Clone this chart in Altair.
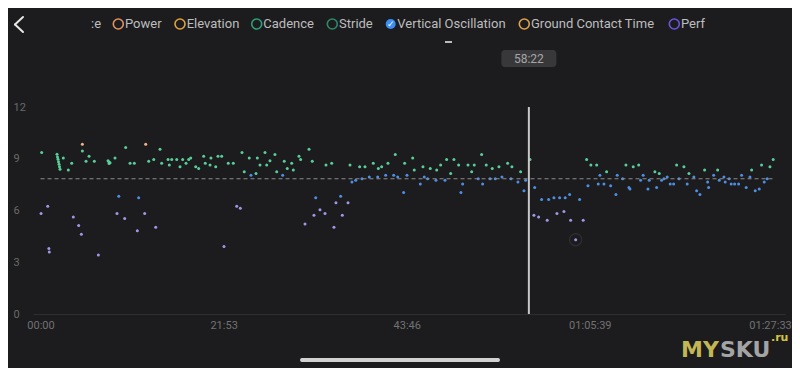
import altair as alt
import pandas as pd

BG = "#1c1c1e"
FONT = "Roboto"

# ---- data (time in minutes, vertical oscillation in cm) ----
t_first = [0.14, 1.97, 2.03, 2.09, 2.15, 2.21, 2.27, 2.33, 2.72, 3.32, 3.73, 5.00, 5.00, 5.44, 5.80, 6.43,
           8.07, 8.19, 8.31, 8.19, 8.90, 10.18, 10.70, 11.21, 12.57, 12.93, 13.53, 14.28, 14.48, 15.24, 15.39,
           15.68, 16.28, 16.67, 16.99, 17.39, 17.71, 17.95, 18.55, 18.90, 19.50, 19.69, 20.26, 20.37, 20.94,
           21.21, 21.65, 22.44, 23.04, 24.08, 24.35, 24.95, 25.15, 25.75, 25.91, 26.23, 26.83, 27.03, 27.42,
           0.06, 0.86, 1.00, 1.05, 3.92, 4.56, 4.88, 6.91, 9.14, 9.35, 10.06, 11.57, 11.73, 12.45, 13.77,
           21.93, 23.45, 23.88]
v_first = [9.36, 9.26, 9.10, 8.97, 8.82, 8.68, 8.53, 8.39, 9.04, 8.35, 8.74, 9.84, 9.45, 8.85, 9.14, 8.85,
           8.88, 8.81, 8.77, 8.72, 9.04, 9.65, 8.74, 8.74, 9.84, 8.85, 8.95, 9.55, 8.74, 8.95, 8.64,
           8.95, 8.95, 8.54, 8.95, 8.74, 8.95, 9.04, 8.54, 8.44, 9.14, 8.74, 8.64, 9.04, 8.54,
           9.14, 9.14, 8.74, 8.74, 9.36, 8.25, 9.04, 8.04, 8.15, 9.04, 8.64, 9.36, 8.64, 8.88,
           5.82, 6.25, 3.80, 3.59, 5.63, 5.13, 4.62, 3.42, 5.82, 6.83, 5.53, 4.83, 6.74, 5.82, 5.03,
           3.92, 6.25, 6.13]

t_mid = [28.02, 28.23, 28.94, 29.13, 29.49, 30.02, 30.21, 30.89, 31.09, 32.09, 32.48, 34.12, 34.80, 36.99,
         37.22, 37.67, 38.14, 38.42, 38.78, 39.29, 39.77, 40.30, 40.37, 40.77, 41.25, 41.53, 42.21, 42.40,
         42.69, 43.40, 43.52, 43.80, 44.48, 44.67, 45.39, 45.71, 45.86, 46.27, 46.58, 47.26, 47.35, 47.82,
         48.34, 48.54, 49.02, 49.41, 49.97, 50.25, 50.45, 51.09, 51.53, 51.84, 52.32, 52.72, 52.84, 53.27,
         53.72, 53.99, 54.35, 54.79, 55.15, 55.83, 56.22, 56.34, 57.06, 57.38, 57.78, 57.98, 58.50, 59.06,
         58.97, 59.53,
         31.61, 32.89, 32.68, 33.40, 34.00, 35.07, 35.31, 35.87, 36.07, 36.75]
v_mid = [9.24, 8.25, 8.05, 8.85, 8.44, 8.74, 8.35, 9.14, 8.95, 9.55, 8.85, 8.64, 8.74, 8.64,
         7.65, 7.75, 8.54, 7.84, 8.54, 7.94, 8.74, 7.94, 8.44, 8.54, 8.04, 8.74, 8.04, 9.24,
         7.94, 7.05, 8.74, 8.04, 9.04, 8.35, 7.53, 8.54, 7.94, 7.84, 8.44, 7.75, 8.35, 8.64,
         7.75, 8.95, 8.15, 8.95, 8.64, 7.05, 7.53, 8.64, 8.25, 8.64, 7.84, 9.24, 7.53, 8.64,
         7.84, 8.44, 7.84, 8.54, 7.94, 8.74, 7.84, 8.54, 7.65, 8.25, 7.15, 7.75, 8.95, 7.34,
         5.72, 5.63,
         5.22, 6.74, 5.72, 6.04, 5.82, 5.03, 6.45, 6.83, 5.72, 6.45]

t_last = [59.89, 60.56, 60.73, 61.36, 61.72, 62.04, 62.56, 62.71, 63.24, 63.36, 63.96, 64.43, 64.86, 65.27,
          65.43, 65.78, 66.47, 66.66, 66.86, 67.34, 67.66, 68.14, 68.77, 68.93, 69.57, 69.97, 70.33, 70.45,
          70.84, 71.49, 71.72, 72.03, 72.60, 72.75, 73.43, 73.64, 73.95, 74.23, 74.51, 74.90, 75.26, 75.67,
          76.03, 76.30, 76.90, 77.29, 77.50, 78.09, 78.42, 78.81, 79.37, 79.73, 79.85, 80.45, 80.93, 81.12,
          81.68, 81.83, 82.31, 82.55, 82.96, 83.44, 83.79, 84.34, 84.79, 84.99, 85.42, 85.90, 86.18, 86.50,
          86.85, 87.18, 87.57]
v_last = [6.64, 5.43, 6.64, 6.74, 5.82, 6.74, 5.94, 6.74, 6.93, 5.43, 4.31, 6.64, 5.43, 8.95,
          7.44, 8.64, 8.64, 7.53, 8.04, 7.53, 8.25, 7.44, 6.93, 8.04, 7.84, 8.64, 7.34, 7.24,
          8.54, 8.64, 7.75, 8.04, 7.24, 7.75, 8.25, 7.34, 8.15, 7.75, 7.84, 7.94, 7.53, 7.53,
          8.64, 7.84, 8.54, 7.53, 8.15, 7.94, 7.15, 6.93, 8.35, 7.65, 7.34, 8.04, 8.35, 7.75,
          7.94, 7.65, 7.84, 7.53, 7.53, 7.53, 8.04, 7.34, 7.94, 8.35, 7.15, 7.24, 8.64, 7.65,
          7.84, 8.54, 8.95]

x_tick_values = [0, 21.883, 43.767, 65.65, 87.55]
x_tick_labels = ["00:00", "21:53", "43:46", "01:05:39", "01:27:33"]
y_tick_values = [0, 3, 6, 9, 12]
average_value = 7.84
end_minute = 87.55
cursor_minute = 58.367
cursor_label = "58:22"
highlight_t = [63.96]
highlight_v = [4.31]

legend_names = ["Power", "Elevation", "Cadence", "Stride", "Vertical Oscillation", "Ground Contact Time", "Perf"]
legend_colors = ["#e4915c", "#e0a33a", "#2f9f77", "#2c8a66", "#3b8ef3", "#e0a24a", "#6a55de"]

df = pd.DataFrame({"t": t_first + t_mid + t_last, "v": v_first + v_mid + v_last})
one = pd.DataFrame({"a": [0]})

W, H = 752, 207
xscale = alt.Scale(domain=[-0.9, 88.98], nice=False, zero=False)
yscale = alt.Scale(domain=[0, 12], nice=False, zero=False)

mids = [(a + b) / 2 for a, b in zip(x_tick_values[:-1], x_tick_values[1:])]
label_expr = f"'{x_tick_labels[-1]}'"
for m, lab in reversed(list(zip(mids, x_tick_labels[:-1]))):
    label_expr = f"datum.value < {m} ? '{lab}' : ({label_expr})"

points = alt.Chart(df).mark_circle(size=9, opacity=1).encode(
    x=alt.X("t:Q", scale=xscale, axis=alt.Axis(
        values=x_tick_values, labelExpr=label_expr, title=None, grid=False, ticks=False,
        domainColor="#2e2e31", labelColor="#727272", labelFontSize=11, labelFont=FONT,
        labelPadding=5, labelFlush=False,
        labelOffset={"condition": {"test": f"datum.value > {mids[-1]}", "value": -3}, "value": 0})),
    y=alt.Y("v:Q", scale=yscale, axis=alt.Axis(
        values=y_tick_values, title=None, grid=False, ticks=False, tickSize=0, domain=False,
        labelAlign="left", labelPadding=20, labelColor="#6a6a6a", labelFontSize=11, labelFont=FONT)),
    color=alt.Color("v:Q", legend=None, scale=alt.Scale(
        type="threshold", domain=[6.6, 8.1, 9.7],
        range=["#9f98e8", "#4d8fe4", "#58cf9a", "#f1b48a"])),
)

halo = alt.Chart(pd.DataFrame({"t": highlight_t, "v": highlight_v})).mark_point(
    size=150, filled=False, color="#303033", strokeWidth=1.2, opacity=1
).encode(x=alt.X("t:Q", scale=xscale), y=alt.Y("v:Q", scale=yscale))

avg = alt.Chart(pd.DataFrame({"v": [average_value]})).mark_rule(
    color="#8a8a8a", strokeDash=[4, 3], strokeWidth=1
).encode(y=alt.Y("v:Q", scale=yscale), x=alt.datum(0), x2=alt.datum(end_minute))

cursor = alt.Chart(one).mark_rule(color="#c8c8c8", strokeWidth=2).encode(
    x=alt.datum(cursor_minute), y=alt.value(0), y2=alt.value(H))

box_path = ("M-0.88,-0.31 H0.88 A0.12,0.12 0 0 1 1,-0.19 V0.19 A0.12,0.12 0 0 1 0.88,0.31 "
            "H-0.88 A0.12,0.12 0 0 1 -1,0.19 V-0.19 A0.12,0.12 0 0 1 -0.88,-0.31 Z")
box = alt.Chart(one).mark_point(shape=box_path, size=3025, filled=True, color="#38383b", opacity=1).encode(
    x=alt.datum(cursor_minute), y=alt.value(-48.5))
box_text = alt.Chart(one).mark_text(text=cursor_label, color="#a6a6a6", fontSize=12, font=FONT).encode(
    x=alt.datum(cursor_minute), y=alt.value(-48))

layers = [points, halo, avg, cursor, box, box_text]

# top bar: back arrow + series selector
layers.append(alt.Chart(one).mark_rule(color="#e6e6e6", strokeWidth=2, strokeCap="round").encode(
    x=alt.value(-10), y=alt.value(-90), x2=alt.value(-18), y2=alt.value(-82.5)))
layers.append(alt.Chart(one).mark_rule(color="#e6e6e6", strokeWidth=2, strokeCap="round").encode(
    x=alt.value(-18), y=alt.value(-82.5), x2=alt.value(-10), y2=alt.value(-75)))
layers.append(alt.Chart(one).mark_text(text=":e", color="#bdbdbd", fontSize=13, font=FONT, align="left").encode(
    x=alt.value(58), y=alt.value(-83)))

circle_x = [85.3, 147, 223.7, 299.3, 357.7, 491.3, 641.3]
text_x = [92, 153.7, 230.3, 306, 364.3, 498, 648]
for name, col, cx, tx in zip(legend_names, legend_colors, circle_x, text_x):
    filled = name == "Vertical Oscillation"
    layers.append(alt.Chart(one).mark_point(shape="circle", size=100, filled=filled, color=col,
                                            strokeWidth=1.6, opacity=1).encode(
        x=alt.value(cx), y=alt.value(-83)))
    if filled:
        layers.append(alt.Chart(one).mark_text(text="✓", color="#ffffff", fontSize=9, fontWeight="bold",
                                               font="DejaVu Sans").encode(x=alt.value(cx), y=alt.value(-83)))
    layers.append(alt.Chart(one).mark_text(text=name, color="#bdbdbd", fontSize=13, font=FONT,
                                           align="left").encode(x=alt.value(tx), y=alt.value(-83)))

layers.append(alt.Chart(one).mark_rule(color="#f0f0f0", strokeWidth=1.5).encode(
    x=alt.value(412), x2=alt.value(419), y=alt.value(-65)))

# watermark and home indicator
layers.append(alt.Chart(one).mark_text(text="MY", color="#c2b754", fontSize=22, fontWeight="bold",
                                       font="DejaVu Sans", align="left", baseline="alphabetic").encode(
    x=alt.value(648), y=alt.value(250)))
layers.append(alt.Chart(one).mark_text(text="SKU", color="#a4a4a4", fontSize=22, fontWeight="bold",
                                       font="DejaVu Sans", align="left", baseline="alphabetic").encode(
    x=alt.value(687), y=alt.value(250)))
layers.append(alt.Chart(one).mark_text(text=".ru", color="#d4c43e", fontSize=11, fontWeight="bold",
                                       font="DejaVu Sans", align="left", baseline="alphabetic").encode(
    x=alt.value(738), y=alt.value(234)))
layers.append(alt.Chart(one).mark_rule(color="#d2d2d2", strokeWidth=4, strokeCap="round").encode(
    x=alt.value(269), x2=alt.value(465), y=alt.value(253)))

chart = alt.layer(*layers).properties(
    width=W, height=H, background=BG,
    padding={"left": 25, "top": 99, "right": 7, "bottom": 54},
    autosize=alt.AutoSizeParams(type="none"),
).configure_view(stroke=None)

chart.save("out.html", embed_options={"renderer": "svg", "actions": False})
